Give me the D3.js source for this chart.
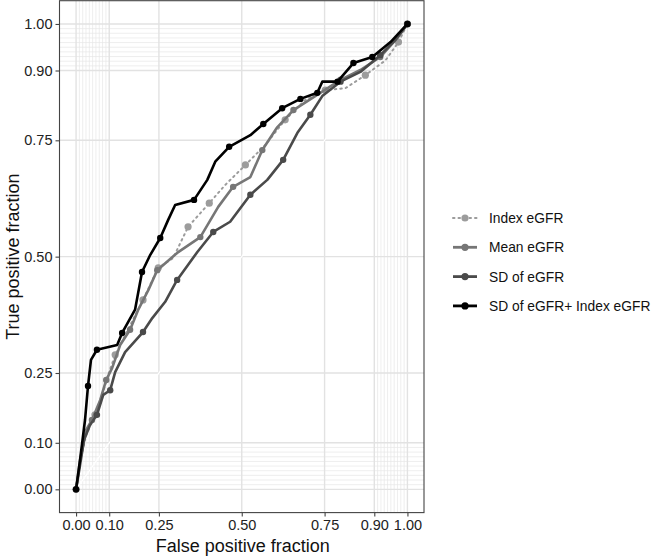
<!DOCTYPE html>
<html><head><meta charset="utf-8">
<script src="https://cdn.jsdelivr.net/npm/d3@7"></script>
<style>body{margin:0;background:#fff}svg{display:block}text{font-family:"Liberation Sans",Arial,sans-serif}</style>
</head><body><svg id="c" width="660" height="557"></svg>
<script>
const seriesNames = ["Index eGFR", "Mean eGFR", "SD of eGFR", "SD of eGFR+ Index eGFR"];
const seriesColors = ["#9c9c9c", "#767676", "#4a4a4a", "#000000"];
const tickValues = [0, 0.1, 0.25, 0.5, 0.75, 0.9, 1];
const tickLabels = ["0.00", "0.10", "0.25", "0.50", "0.75", "0.90", "1.00"];

// ROC curve vertices [FPF, TPF]
const indexFPF = [0,0.012,0.03,0.057,0.079,0.097,0.118,0.148,0.202,0.248,0.293,0.338,0.402,0.45,0.511,0.571,0.631,0.692,0.752,0.813,0.873,0.934,0.973,1];
const indexTPF = [0,0.058,0.116,0.16,0.203,0.246,0.289,0.331,0.407,0.476,0.497,0.564,0.615,0.654,0.697,0.74,0.794,0.837,0.858,0.862,0.89,0.922,0.961,1];
const meanFPF = [0,0.012,0.03,0.048,0.073,0.091,0.109,0.133,0.163,0.187,0.218,0.245,0.305,0.375,0.429,0.474,0.526,0.562,0.607,0.656,0.737,0.798,0.858,0.918,0.97,1];
const meanTPF = [0,0.063,0.127,0.149,0.192,0.235,0.261,0.31,0.343,0.385,0.428,0.471,0.508,0.542,0.607,0.65,0.671,0.729,0.778,0.815,0.852,0.88,0.901,0.929,0.97,1];
const sdFPF = [0,0.012,0.024,0.042,0.063,0.082,0.103,0.118,0.148,0.202,0.23,0.269,0.305,0.366,0.414,0.465,0.526,0.577,0.625,0.668,0.707,0.743,0.798,0.858,0.918,0.964,1];
const sdTPF = [0,0.052,0.106,0.138,0.16,0.203,0.213,0.252,0.295,0.338,0.368,0.403,0.45,0.51,0.553,0.575,0.633,0.665,0.708,0.766,0.805,0.845,0.876,0.897,0.933,0.966,1];
const comboFPF = [0,0.012,0.027,0.036,0.045,0.063,0.124,0.139,0.178,0.199,0.224,0.254,0.278,0.299,0.356,0.396,0.42,0.462,0.526,0.565,0.622,0.677,0.728,0.743,0.789,0.837,0.894,0.949,1];
const comboTPF = [0,0.063,0.149,0.222,0.278,0.30,0.31,0.336,0.386,0.467,0.504,0.54,0.579,0.611,0.622,0.665,0.704,0.736,0.761,0.785,0.819,0.839,0.852,0.876,0.876,0.916,0.929,0.961,1];

// cutoff points shown as dots (indices into the vertex arrays)
const indexCuts = [0,3,6,8,9,11,12,14,16,18,20,22,23];
const meanCuts = [0,3,5,8,11,13,15,17,19,21,23,25];
const sdCuts = [0,4,6,9,12,14,16,18,20,22,24,26];
const comboCuts = [0,3,5,7,9,11,14,17,19,20,21,22,24,25,26,28];

const seriesFPF = [indexFPF, meanFPF, sdFPF, comboFPF];
const seriesTPF = [indexTPF, meanTPF, sdTPF, comboTPF];
const seriesCuts = [indexCuts, meanCuts, sdCuts, comboCuts];

const svg = d3.select("#c");
const P = {l: 59.5, r: 424, t: 0.7, b: 512.6};
const x = d3.scaleLinear().domain([-0.05, 1.05]).range([P.l, P.r]);
const y = d3.scaleLinear().domain([-0.05, 1.05]).range([P.b, P.t]);

const minor = d3.range(1, 10).map(i => i / 100).concat(d3.range(91, 100).map(i => i / 100));
const g = svg.append("g");
g.selectAll(".mnx").data(minor).join("line").attr("x1", d => x(d)).attr("x2", d => x(d)).attr("y1", P.t).attr("y2", P.b).attr("stroke", "#e6e6e6").attr("stroke-width", 0.7);
g.selectAll(".mny").data(minor).join("line").attr("y1", d => y(d)).attr("y2", d => y(d)).attr("x1", P.l).attr("x2", P.r).attr("stroke", "#e6e6e6").attr("stroke-width", 0.7);
g.selectAll(".mjx").data(tickValues).join("line").attr("x1", d => x(d)).attr("x2", d => x(d)).attr("y1", P.t).attr("y2", P.b).attr("stroke", "#e2e2e2").attr("stroke-width", 1.4);
g.selectAll(".mjy").data(tickValues).join("line").attr("y1", d => y(d)).attr("y2", d => y(d)).attr("x1", P.l).attr("x2", P.r).attr("stroke", "#e2e2e2").attr("stroke-width", 1.4);
g.append("line").attr("x1", x(0)).attr("y1", y(0)).attr("x2", x(1)).attr("y2", y(1)).attr("stroke", "#ffffff").attr("stroke-width", 1.2);

const line = d3.line().x(d => x(d[0])).y(d => y(d[1]));
seriesNames.forEach((name, i) => {
  const pts = seriesFPF[i].map((f, j) => [f, seriesTPF[i][j]]);
  const path = svg.append("path").datum(pts).attr("d", line).attr("fill", "none")
    .attr("stroke", seriesColors[i]).attr("stroke-width", i === 0 ? 2 : 2.6).attr("stroke-linejoin", "round");
  if (i === 0) path.attr("stroke-dasharray", "1.5 4").attr("stroke-linecap", "round");
  svg.append("g").selectAll("circle").data(seriesCuts[i].map(k => pts[k])).join("circle")
    .attr("cx", d => x(d[0])).attr("cy", d => y(d[1])).attr("r", i === 0 ? 3.6 : 3.2).attr("fill", seriesColors[i]);
});

svg.append("rect").attr("x", P.l).attr("y", P.t).attr("width", P.r - P.l).attr("height", P.b - P.t)
  .attr("fill", "none").attr("stroke", "#444").attr("stroke-width", 1.1);

const xAxis = d3.axisBottom(x).tickValues(tickValues).tickFormat((d, i) => tickLabels[i]).tickSize(4).tickPadding(3);
const yAxis = d3.axisLeft(y).tickValues(tickValues).tickFormat((d, i) => tickLabels[i]).tickSize(4).tickPadding(3);
const ax = svg.append("g").attr("transform", `translate(0,${P.b})`).call(xAxis);
const ay = svg.append("g").attr("transform", `translate(${P.l},0)`).call(yAxis);
[ax, ay].forEach(a => {
  a.select(".domain").remove();
  a.selectAll(".tick line").attr("stroke", "#444").attr("stroke-width", 1.1);
  a.selectAll(".tick text").attr("fill", "#222").style("font-size", "14.5px");
});

svg.append("text").attr("x", (x(0) + x(1)) / 2 + 1).attr("y", 552).attr("text-anchor", "middle")
  .style("font-size", "18px").attr("fill", "#111").text("False positive fraction");
svg.append("text").attr("transform", `translate(19,${(P.t + P.b) / 2}) rotate(-90)`).attr("text-anchor", "middle")
  .style("font-size", "18px").attr("fill", "#111").text("True positive fraction");

const leg = svg.append("g");
seriesNames.forEach((name, i) => {
  const cy = 218 + i * 29.3;
  const ln = leg.append("line").attr("x1", 453).attr("x2", 477).attr("y1", cy).attr("y2", cy)
    .attr("stroke", seriesColors[i]).attr("stroke-width", i === 0 ? 2 : 2.8);
  if (i === 0) ln.attr("stroke-dasharray", "1.5 4").attr("stroke-linecap", "round");
  leg.append("circle").attr("cx", 465).attr("cy", cy).attr("r", 3.6).attr("fill", seriesColors[i]);
  leg.append("text").attr("x", 489).attr("y", cy + 5).style("font-size", "13.8px").attr("fill", "#111").text(name);
});
</script></body></html>
